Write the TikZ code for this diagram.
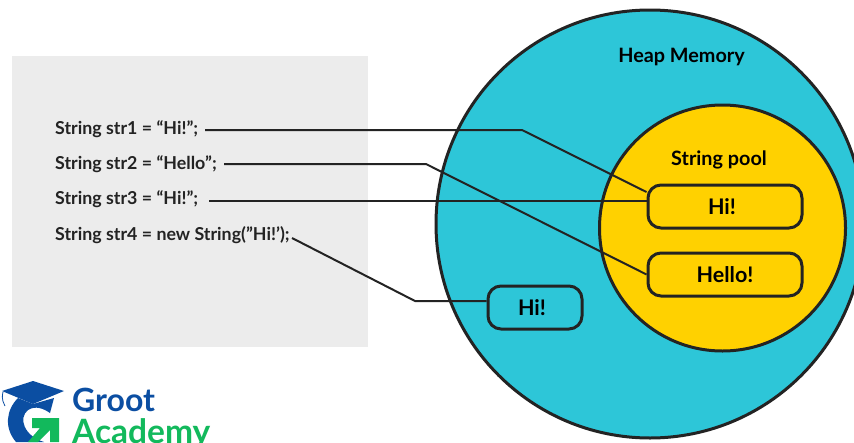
\documentclass[tikz,border=0pt]{standalone}
\usepackage{fontspec}
\setmainfont{Lato}
\usetikzlibrary{calc}
\definecolor{heap}{HTML}{2DC6D8}
\definecolor{pool}{HTML}{FFD100}
\definecolor{panel}{HTML}{ECECEC}
\definecolor{ink}{HTML}{232323}
\definecolor{gblue}{HTML}{0B4EA2}
\definecolor{ggreen}{HTML}{12B95C}
\tikzset{
  codetext/.style={anchor=base west,inner sep=0pt,font=\fontsize{17.8}{20}\selectfont\bfseries,text=ink},
  valbox/.style={draw=ink,line width=3pt,rounded corners=13pt,minimum height=43pt,inner sep=0pt,font=\fontsize{21.5}{24}\selectfont\bfseries,text=black},
  titletext/.style={inner sep=0pt,font=\fontsize{19.8}{23}\selectfont\bfseries,text=black},
  wire/.style={draw=ink,line width=2pt},
  ring/.style={draw=ink,line width=3pt,circle,inner sep=0pt},
  logotext/.style={anchor=base west,inner sep=0pt,font=\fontsize{33.5}{38}\selectfont\bfseries}
}
\begin{document}
\begin{tikzpicture}[x=1pt,y=-1pt]
\useasboundingbox (0,0) rectangle (854,442);
\clip (0,0) rectangle (854,442);
\fill[white] (0,0) rectangle (854,442);
\fill[panel] (12,56) rectangle (368,347);
\node[ring,fill=heap,minimum size=428pt] (heap) at (650,224) {};
\node[ring,fill=pool,minimum size=246pt] (pool) at (722.5,228) {};
\node[titletext] (heapt) at (681.5,57) {Heap Memory};
\node[titletext] (poolt) at (719,160) {String pool};
\node[codetext] (s1) at (55,134) {String str1 = “Hi!”;};
\node[codetext] (s2) at (55,169) {String str2 = “Hello”;};
\node[codetext] (s3) at (55,204) {String str3 = “Hi!”;};
\node[codetext] (s4) at (55,240) {String str4 = new String(”Hi!’);};
\node[valbox,minimum width=154pt] (hi) at (725,206.5) {Hi!\kern6pt};
\node[valbox,minimum width=154pt] (hello) at (725,274.5) {Hello!};
\node[valbox,minimum width=94pt] (hi2) at (535,307.5) {Hi!\kern6pt};
\coordinate (w1) at (205,130);
\coordinate (w2) at (224,164);
\coordinate (w3) at (209,201);
\coordinate (w4) at (292,238);
\coordinate (k1) at (522,130);
\coordinate (k2) at (426,164);
\coordinate (k4) at (415,301);
\coordinate (e1) at ($(hi.west)+(0,-14.5)$);
\coordinate (e3) at ($(hi.west)+(0,-5.5)$);
\draw[wire] (w1) -- (k1) -- (e1);
\draw[wire] (w2) -- (k2) -- (hello.west);
\draw[wire] (w3) -- (e3);
\draw[wire] (w4) -- (k4) -- (hi2.west |- k4);
% logo
\fill[gblue] (2,391) -- (33,381) -- (64,391) -- (33,404) -- cycle;
\draw[gblue,line width=0.8pt] (3,392) .. controls (1,400) and (4,403) .. (5,406);
\fill[gblue] (18,398) .. controls (6,410) and (4,428) .. (16,442) -- (44,442) .. controls (24,436) and (18,418) .. (28,410) .. controls (36,405) and (44,409) .. (50,413) -- (54,398) -- (33,404) -- cycle;
\fill[ggreen] (32,418) -- (59,418) -- (59,442) -- (50,442) -- (50,430) -- (38,442) -- (28,442) -- (40,428) -- (32,428) -- cycle;
\node[logotext,text=gblue,font=\fontsize{32}{36}\selectfont\bfseries] (groot) at (72,411) {Groot};
\node[logotext,text=ggreen] (acad) at (72,443) {Academy};
\end{tikzpicture}
\end{document}
